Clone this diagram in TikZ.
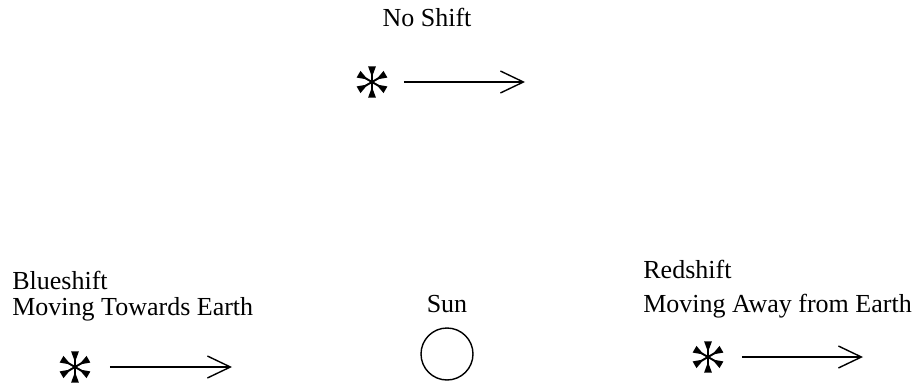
\documentclass[tikz,border=0pt]{standalone}
\usepackage{fontspec}
\setmainfont{Liberation Serif}
\usepackage{tikz}
\usetikzlibrary{arrows.meta,positioning}

\begin{document}
\begin{tikzpicture}[x=0.02cm, y=-0.02cm,
  lbl/.style={font=\fontsize{14.8}{17}\selectfont, inner sep=0pt, anchor=base west},
  starmark/.style={circle, inner sep=0pt, minimum size=0.66cm,
    path picture={
      \begin{scope}[shift={(path picture bounding box.center)}]
        \foreach \a in {30,90,150,210,270,330} {
          \draw[line width=1.1pt] (0,0) -- (\a:0.3cm);
          \fill (\a:0.1cm) -- (\a+14:0.32cm) -- (\a-14:0.32cm) -- cycle;
        }
      \end{scope}}},
  sun/.style={circle, draw, line width=0.8pt, minimum size=1.04cm, inner sep=0pt},
  arr/.style={-{Straight Barb[length=0.46cm, width=0.44cm]}, line width=0.8pt,
              shorten <=0.3cm}
]
\useasboundingbox (0,0) rectangle (918,385);

% no shift
\node[lbl, anchor=base] (noshift) at (427,27) {No Shift};
\node[starmark] (star0) at (372,82) {};
\coordinate (tip0) at (525,82);
\draw[arr] (star0) -- (tip0);

% blueshift
\node[lbl] (blue) at (12,289) {Blueshift};
\node[lbl] (towards) at (12,315) {Moving Towards Earth};
\node[starmark] (star1) at (75,367) {};
\coordinate (tip1) at (232,367);
\draw[arr, shorten <=0.36cm] (star1) -- (tip1);

% sun
\node[lbl, anchor=base] (suntxt) at (447,312) {Sun};
\node[sun] (sun) at (447,354) {};

% redshift
\node[lbl] (red) at (643,278) {Redshift};
\node[lbl] (away) at (643,312) {Moving Away from Earth};
\node[starmark] (star2) at (708,357) {};
\coordinate (tip2) at (863,357);
\draw[arr, shorten <=0.34cm] (star2) -- (tip2);
\end{tikzpicture}
\end{document}
